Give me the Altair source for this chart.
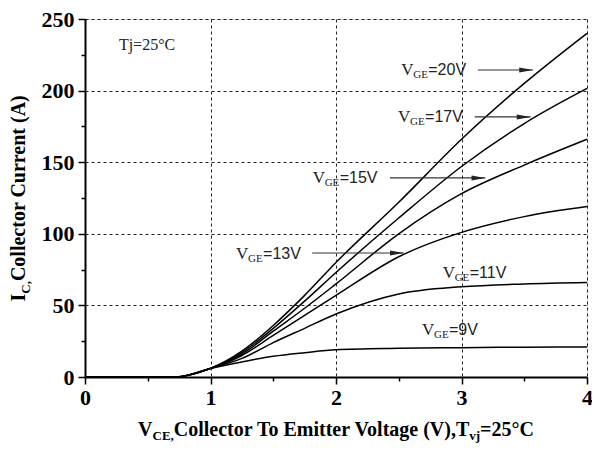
import altair as alt
import pandas as pd

# ---------------- data ----------------
vce = [0, 0.5, 0.72, 1.0, 1.25, 1.5, 1.75, 2.0, 2.5, 3.0, 3.5, 4.0]
ic_9v = [0, 0, 0, 6, 10.5, 14.5, 17, 19, 20, 20.5, 20.8, 21]
ic_11v = [0, 0, 0, 6, 13, 24, 34, 44, 58, 63, 65, 66]
ic_13v = [0, 0, 0, 6, 15, 29, 43, 57, 84, 101, 112, 119]
ic_15v = [0, 0, 0, 6, 16, 32, 48, 65, 100, 128, 148, 166]
ic_17v = [0, 0, 0, 6, 17, 34, 53, 73, 111, 147, 177, 201.5]
ic_20v = [0, 0, 0, 6, 18, 36, 57, 80, 122, 166, 205, 240]

series_names = ["9V", "11V", "13V", "15V", "17V", "20V"]
series_values = [ic_9v, ic_11v, ic_13v, ic_15v, ic_17v, ic_20v]

# annotation labels (data coordinates)
label_text = ["=20V", "=17V", "=15V", "=13V", "=11V", "=9V"]
label_x = [2.52, 2.495, 1.814, 1.204, 2.85, 2.685]
label_y = [214.4, 181.6, 139.0, 86.0, 72.6, 32.8]

# arrows (data coordinates)
arrow_x1 = [3.13, 3.105, 2.43, 1.81]
arrow_x2 = [3.57, 3.55, 3.19, 2.54]
arrow_y = [214.4, 181.6, 139.0, 86.6]

x_ticks = [0, 0.5, 1, 1.5, 2, 2.5, 3, 3.5, 4]
y_ticks = [0, 25, 50, 75, 100, 125, 150, 175, 200, 225, 250]

# ---------------- tables ----------------
rows = []
for name, vals in zip(series_names, series_values):
    for v, i in zip(vce, vals):
        rows.append({"V": v, "I": i, "VGE": name})
curves = pd.DataFrame(rows)
labels = pd.DataFrame({"V": label_x, "I": label_y, "t": label_text})
arrows = pd.DataFrame({"V": arrow_x1, "V2": arrow_x2, "I": arrow_y})
tj = pd.DataFrame({"V": [0.27], "I": [231.8], "t": ["Tj=25°C"]})

W, H = 502, 358
SERIF = "Liberation Serif"
SANS = "Liberation Sans"

xscale = alt.Scale(domain=[0, 4], nice=False, zero=False)
yscale = alt.Scale(domain=[0, 250], nice=False)

x_axis = alt.Axis(
    values=x_ticks, title=None, format=".0f",
    labelExpr="datum.value % 1 ? '' : datum.label",
    labelFont=SERIF, labelFontWeight="bold", labelFontSize=22, labelColor="black",
    labelFlush=False, labelOverlap=False, labelPadding=3,
    tickColor="black", tickWidth=1.5,
    tickSize={"condition": {"test": "datum.value % 1 !== 0", "value": 4}, "value": 7},
    domainColor="black", domainWidth=2,
    grid=True, gridColor="#222", gridDash=[3, 3], gridWidth=1,
    gridOpacity={"condition": {"test": "datum.value % 1 !== 0", "value": 0}, "value": 1},
)
y_axis = alt.Axis(
    values=y_ticks, title=None, format=".0f",
    labelExpr="datum.value % 50 ? '' : datum.label",
    labelFont=SERIF, labelFontWeight="bold", labelFontSize=22, labelColor="black",
    labelOverlap=False, labelPadding=4, labelFlush=False,
    tickColor="black", tickWidth=1.5,
    tickSize={"condition": {"test": "datum.value % 50 !== 0", "value": 4}, "value": 7},
    domainColor="black", domainWidth=2,
    grid=True, gridColor="#222", gridDash=[3, 3], gridWidth=1,
    gridOpacity={"condition": {"test": "datum.value % 50 !== 0", "value": 0}, "value": 1},
)

X = alt.X("V:Q", scale=xscale, axis=x_axis)
Y = alt.Y("I:Q", scale=yscale, axis=y_axis)

lines = alt.Chart(curves).mark_line(
    interpolate="monotone", color="black", strokeWidth=1.5
).encode(x=X, y=Y, detail="VGE:N")

arrow_lines = alt.Chart(arrows).mark_rule(color="#333", strokeWidth=1.2).encode(
    x=X, x2="V2:Q", y=Y
)
arrow_heads = alt.Chart(arrows).mark_point(
    shape="M -2 -0.36 L 0 0 L -2 0.36 Z", filled=True, color="#222", size=190, opacity=1
).encode(x=alt.X("V2:Q", scale=xscale, axis=x_axis), y=Y)

lab_v = alt.Chart(labels).mark_text(
    text="V", font=SERIF, fontSize=17, align="left", baseline="middle", color="#222"
).encode(x=X, y=Y)
lab_ge = alt.Chart(labels).mark_text(
    text="GE", font=SERIF, fontSize=11, align="left", baseline="middle", color="#222", dx=12, dy=5
).encode(x=X, y=Y)
lab_rest = alt.Chart(labels).mark_text(
    font=SANS, fontSize=16, align="left", baseline="middle", color="#222", dx=27
).encode(x=X, y=Y, text="t:N")

tj_text = alt.Chart(tj).mark_text(
    font=SERIF, fontSize=16, align="left", baseline="middle", color="#222"
).encode(x=X, y=Y, text="t:N")

# --------- axis titles with subscripts, built from text pieces ---------
TB = {"C": .722, "o": .5, "l": .278, "e": .444, "c": .444, "t": .333, "r": .444, " ": .25,
      "T": .667, "E": .667, "m": .833, "i": .278, "V": .722, "a": .5, "g": .5, "(": .333,
      ")": .333, ",": .25, "u": .556, "n": .556, "A": .722, "I": .389, "=": .57, "2": .5,
      "5": .5, "°": .4, "v": .5, "j": .333}


def tw(s, size):
    return sum(TB.get(ch, 0.5) for ch in s) * size


one = pd.DataFrame({"k": [0]})


def piece(s, size, align, dx, dy, x, y, angle=None):
    kw = dict(text=s, font=SERIF, fontSize=size, fontWeight="bold", align=align,
              baseline="alphabetic", color="black", dx=dx, dy=dy)
    if angle is not None:
        kw["angle"] = angle
    return alt.Chart(one).mark_text(**kw).encode(x=alt.value(x), y=alt.value(y))


# x title: V_CE,Collector To Emitter Voltage (V),T_vj=25°C
XT_Y = 417
main_a = "Collector To Emitter "
main_b = "Voltage (V),T"
main_w = tw(main_a + main_b, 20) - 5
total = tw("V", 20) + tw("CE,", 13) + main_w + tw("vj", 13) + tw("=25°C", 20)
S = W / 2 - total / 2
p1 = S + tw("V", 20)
p2 = p1 + tw("CE,", 13)
P = p2 + main_w
xt_layers = [
    piece("V", 20, "left", S, 0, 0, XT_Y),
    piece("CE,", 13, "left", p1, 4, 0, XT_Y),
    piece(main_a, 20, "left", p2, 0, 0, XT_Y),
    piece(main_b, 20, "right", P, 0, 0, XT_Y),
    piece("vj", 13, "left", P, 4, 0, XT_Y),
    piece("=25°C", 20, "left", P + tw("vj", 13), 0, 0, XT_Y),
]

# y title: I_C,Collector Current (A)  (rotated, reads bottom to top)
yt_total = tw("I", 20) + tw("C,", 13) + tw("Collector Current (A)", 20)
y0 = H / 2 + yt_total / 2
yt_layers = [
    piece("I", 20, "left", 0, 0, -60, y0, 270),
    piece("C,", 13, "left", tw("I", 20), 5, -60, y0, 270),
    piece("Collector Current (A)", 20, "left", tw("I", 20) + tw("C,", 13), 0, -60, y0, 270),
]

chart = alt.layer(
    lines, arrow_lines, arrow_heads, lab_v, lab_ge, lab_rest, tj_text,
    *xt_layers, *yt_layers
).properties(
    width=W, height=H,
    autosize=alt.AutoSizeParams(type="none"),
    padding={"left": 77, "top": 11, "right": 5, "bottom": 68},
).configure_view(stroke="#333", strokeWidth=1.5).configure(background="white")

chart.save("out.html", embed_options={"renderer": "svg", "actions": False})
